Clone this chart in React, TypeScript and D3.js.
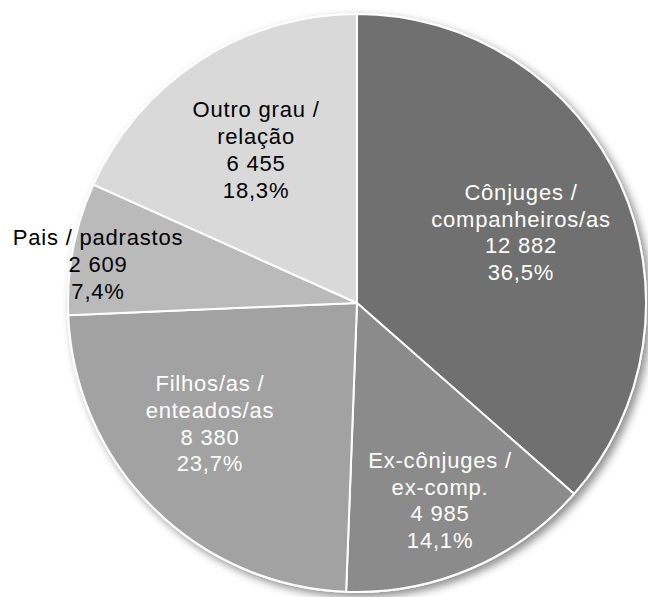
import React from "react";
import * as d3 from "d3";

const categories = ["Cônjuges / companheiros/as", "Ex-cônjuges / ex-comp.", "Filhos/as / enteados/as", "Pais / padrastos", "Outro grau / relação"];
const values = [12882, 4985, 8380, 2609, 6455];
const valueLabels = ["12 882", "4 985", "8 380", "2 609", "6 455"];
const percentLabels = ["36,5%", "14,1%", "23,7%", "7,4%", "18,3%"];
const labelLines = [
  ["Cônjuges /", "companheiros/as"],
  ["Ex-cônjuges /", "ex-comp."],
  ["Filhos/as /", "enteados/as"],
  ["Pais / padrastos"],
  ["Outro grau /", "relação"],
];

const colors = ["#6f6f6f", "#8b8b8b", "#a2a2a2", "#bababa", "#d9d9d9"];
const textColors = ["#ffffff", "#ffffff", "#ffffff", "#000000", "#000000"];
// label placement: radius and angle shift (degrees) from slice mid-angle
const labelRadius = [175.7, 221.2, 195.2, 260.8, 177.1];
const labelAngleShift = [3.3, 1.2, 4.0, -4.1, -1.85];

const W = 648;
const H = 597;
const cx = 357;
const cy = 303;
const R = 289;
const lineH = 26.7;

export default function App() {
  const pie = d3.pie<number>().sort(null).value((d) => d).startAngle(0).endAngle(2 * Math.PI);
  const arcs = pie(values);
  const arc = d3.arc<d3.PieArcDatum<number>>().innerRadius(0).outerRadius(R);

  return (
    <svg width={W} height={H} style={{ position: "absolute", left: 0, top: 0, background: "#fff" }}>
      <defs>
        <filter id="shadow" x="-10%" y="-10%" width="130%" height="130%">
          <feDropShadow dx="4" dy="4" stdDeviation="4" floodColor="#000" floodOpacity="0.45" />
        </filter>
      </defs>
      <g transform={`translate(${cx},${cy})`}>
        <g filter="url(#shadow)">
          {arcs.map((a, i) => (
            <path key={i} d={arc(a) || ""} fill={colors[i]} stroke="#ffffff" strokeWidth={2} strokeLinejoin="round" />
          ))}
        </g>
        {arcs.map((a, i) => {
          const mid = (a.startAngle + a.endAngle) / 2 + (labelAngleShift[i] * Math.PI) / 180;
          const x = labelRadius[i] * Math.sin(mid);
          const y = -labelRadius[i] * Math.cos(mid);
          const lines = [...labelLines[i], valueLabels[i], percentLabels[i]];
          const n = lines.length;
          return (
            <text
              key={i}
              x={x}
              y={y}
              textAnchor="middle"
              fill={textColors[i]}
              fontFamily="'Liberation Sans', Arial, sans-serif"
              fontSize={22}
              letterSpacing={0.8}
            >
              {lines.map((l, j) => (
                <tspan key={j} x={x} y={y + (j - (n - 1) / 2) * lineH}>
                  {l}
                </tspan>
              ))}
            </text>
          );
        })}
      </g>
    </svg>
  );
}
